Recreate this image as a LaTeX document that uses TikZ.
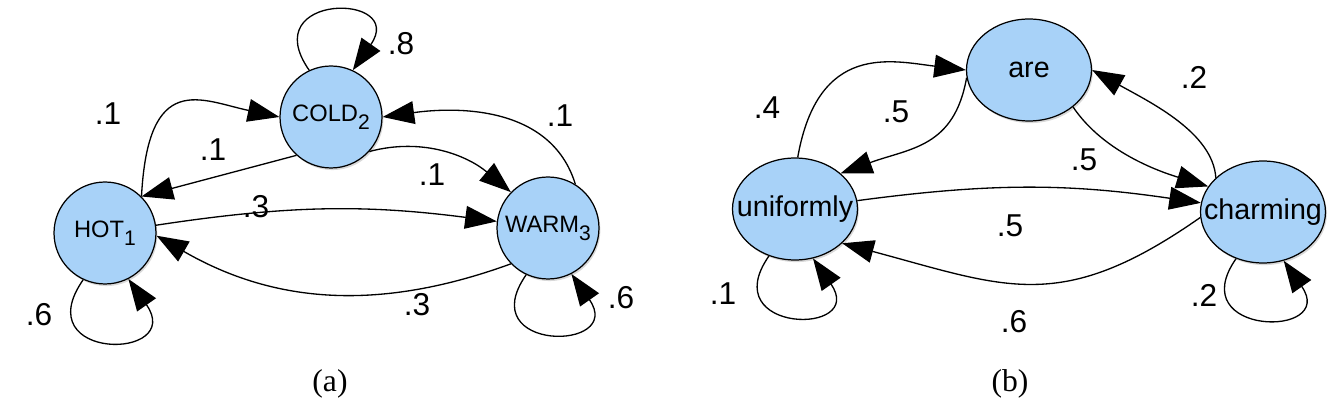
\documentclass[tikz,border=0pt]{standalone}
\usepackage{fontspec}
\setmainfont{Liberation Serif}
\newfontfamily\lblfont{Liberation Sans}
\usepackage{xcolor}
\usepackage{tikz}
\usetikzlibrary{arrows.meta,shapes.geometric,shadows}
\definecolor{statefill}{RGB}{168,210,248}
\newcommand{\stsub}[1]{\raisebox{-4.5pt}{\fontsize{12}{12}\selectfont #1}}
\newcommand{\stname}[1]{\makebox[0pt]{#1}}

\begin{document}
\begin{tikzpicture}[x=0.02cm, y=0.02cm,
    state/.style={circle, draw, line width=0.7pt, fill=statefill, minimum size=2.04cm, inner sep=0pt,
      font=\lblfont\fontsize{13.5}{14}\selectfont,
      drop shadow={shadow xshift=0.8pt, shadow yshift=-1.2pt, opacity=0.3}},
    word/.style={state, ellipse, minimum width=2.5cm, minimum height=2.04cm,
      font=\lblfont\fontsize{16.3}{17}\selectfont},
    prob/.style={font=\lblfont\fontsize{18}{18}\selectfont, inner sep=0pt},
    caption/.style={font=\fontsize{18}{18}\selectfont, inner sep=0pt},
    arr/.style={-{Triangle[length=18pt,width=13pt]}, line width=0.75pt}]
  \useasboundingbox (0,0) rectangle (1343,412);

  % (a) weather states
  \node[state] (hot)  at (105,179) {\stname{HOT\stsub{1}}};
  \node[state] (cold) at (331,295) {\stname{COLD\stsub{2}}};
  \node[state] (warm) at (548,184) {\stname{WARM\stsub{3}}};
  \draw[arr] (hot.45) .. controls +(87:127) and +(168:80) .. (cold.180);
  \draw[arr] (cold.228) -- (hot.45);
  \draw[arr] (cold.-42) .. controls +(15:56) and +(140:56) .. (warm.136);
  \draw[arr] (warm.58) .. controls +(107:84) and +(8:71) .. (cold.0);
  \draw[arr] (hot) to[bend left=8] (warm);
  \draw[arr] (warm.224) .. controls +(200:138) and +(-30:138) .. (hot.-3);
  % self loops
  \draw[arr] (hot.245) .. controls +(235:100) and +(305:100) .. (hot.297);
  \draw[arr] (warm.245) .. controls +(235:95) and +(305:95) .. (warm.297);
  \draw[arr] (cold.115) .. controls +(125:95) and +(55:95) .. (cold.65);
  % probabilities
  \node[prob] (hc)  at (108,298) {.1};
  \node[prob] (ch)  at (213,262) {.1};
  \node[prob] (cw)  at (432,237) {.1};
  \node[prob] (wc)  at (560,296) {.1};
  \node[prob] (hw)  at (256,205) {.3};
  \node[prob] (wh)  at (417,107) {.3};
  \node[prob] (cc)  at (401,368) {.8};
  \node[prob] (hh)  at (39,97)   {.6};
  \node[prob] (ww)  at (621,114) {.6};
  \node[caption] (capa) at (330,28) {(a)};

  % (b) word states
  \node[word] (unif)  at (795,203)  {\stname{uniformly}};
  \node[word] (are)   at (1029,342) {\stname{are}};
  \node[word] (charm) at (1263,200) {\stname{charming}};
  \draw[arr] (unif.87) .. controls +(80:117) and +(173:75) .. (are.180);
  \draw[arr] (are.187) .. controls +(260:71) and +(20:74) .. (unif.38);
  \draw[arr] (are.-40) .. controls +(-56:54) and +(163:52) .. (charm.155);
  \draw[arr] (charm.144) .. controls +(94:45) and +(-29:68) .. (are.0);
  \draw[arr] (unif) to[bend left=8] (charm);
  \draw[arr] (charm.185) .. controls +(215:170) and +(-15:170) .. (unif.-36);
  % self loops
  \draw[arr] (unif.241) .. controls +(235:95) and +(305:95) .. (unif.290);
  \draw[arr] (charm.240) .. controls +(235:95) and +(305:95) .. (charm.293);
  % probabilities
  \node[prob] (ua)  at (767,304)  {.4};
  \node[prob] (au)  at (896,300)  {.5};
  \node[prob] (cha) at (1194,335) {.2};
  \node[prob] (ach) at (1084,252) {.5};
  \node[prob] (uch) at (1010,186) {.5};
  \node[prob] (chu) at (1014,90)  {.6};
  \node[prob] (uu)  at (723,118)  {.1};
  \node[prob] (chch) at (1204,117) {.2};
  \node[caption] (capb) at (1010,28) {(b)};
\end{tikzpicture}
\end{document}
